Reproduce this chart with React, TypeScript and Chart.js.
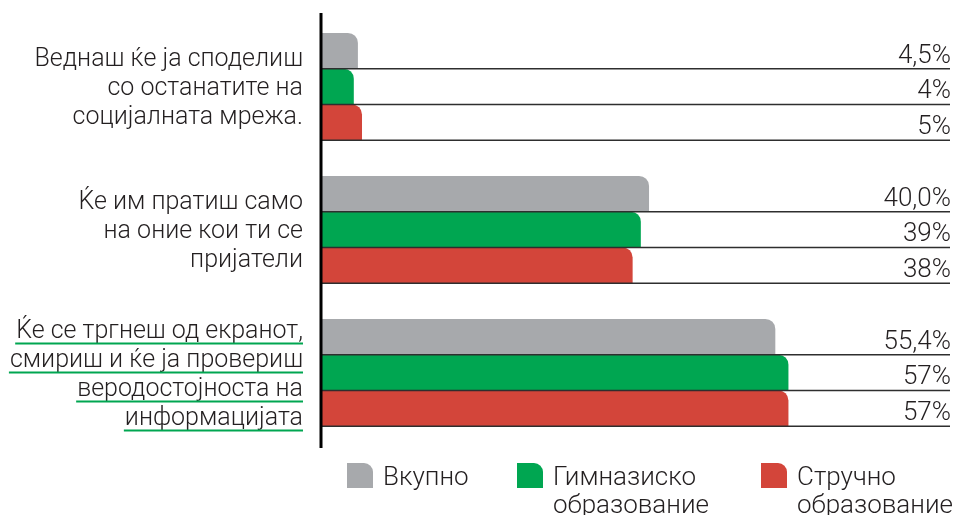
import React, { useEffect, useRef } from "react";
import { Chart, registerables } from "chart.js";

Chart.register(...registerables);

// ---- data ----
const categories: string[][] = [
  ["Веднаш ќе ја споделиш", "со останатите на", "социјалната мрежа."],
  ["Ќе им пратиш само", "на оние кои ти се", "пријатели"],
  ["Ќе се тргнеш од екранот,", "смириш и ќе ја провериш", "веродостојноста на", "информацијата"],
];
const seriesNames = ["Вкупно", "Гимназиско образование", "Стручно образование"];
const legendLines: string[][] = [["Вкупно"], ["Гимназиско", "образование"], ["Стручно", "образование"]];
const totalValues = [4.5, 40.0, 55.4];
const gymnasiumValues = [4, 39, 57];
const vocationalValues = [5, 38, 57];
const valueDecimals = [1, 0, 0];
const highlightedCategory = 2;

// ---- style ----
const colors = ["#a7a9ac", "#00a651", "#d3453a"];
const FONT = '"Roboto", "Noto Sans", sans-serif';
const TEXT = "#231f20";

function formatValue(v: number, d: number) {
  return v.toFixed(d).replace(".", ",") + "%";
}

function roundTopRightRect(ctx: CanvasRenderingContext2D, x: number, y: number, w: number, h: number, r: number) {
  ctx.beginPath();
  ctx.moveTo(x, y);
  ctx.lineTo(x + w - r, y);
  ctx.arcTo(x + w, y, x + w, y + r, r);
  ctx.lineTo(x + w, y + h);
  ctx.lineTo(x, y + h);
  ctx.closePath();
}

const overlayPlugin = {
  id: "overlay",
  afterDatasetsDraw(chart: any) {
    const ctx: CanvasRenderingContext2D = chart.ctx;
    const area = chart.chartArea;
    ctx.save();

    // lines under bars and value labels
    chart.data.datasets.forEach((ds: any, di: number) => {
      const meta = chart.getDatasetMeta(di);
      meta.data.forEach((bar: any, i: number) => {
        const { y, height } = bar.getProps(["y", "height"], true);
        const bottom = y + height / 2;
        ctx.strokeStyle = "#2e2e2e";
        ctx.lineWidth = 1.5;
        ctx.beginPath();
        ctx.moveTo(area.left, bottom);
        ctx.lineTo(area.right, bottom);
        ctx.stroke();

        ctx.fillStyle = TEXT;
        ctx.font = `300 26px ${FONT}`;
        ctx.textAlign = "right";
        ctx.textBaseline = "alphabetic";
        ctx.fillText(formatValue(ds.data[i], valueDecimals[di]), area.right + 1, bottom - 6);
      });
    });

    // vertical axis line
    ctx.strokeStyle = "#000";
    ctx.lineWidth = 3;
    ctx.beginPath();
    ctx.moveTo(area.left, area.top - 2);
    ctx.lineTo(area.left, area.bottom + 4);
    ctx.stroke();

    // category labels
    const yScale = chart.scales.y;
    ctx.font = `300 25px ${FONT}`;
    ctx.textAlign = "right";
    ctx.fillStyle = TEXT;
    const labelRight = area.left - 18;
    categories.forEach((lines, ci) => {
      const cy = yScale.getPixelForValue(ci);
      lines.forEach((line, li) => {
        const base = cy + 8.5 + (li - (lines.length - 1) / 2) * 29;
        ctx.fillStyle = TEXT;
        ctx.fillText(line, labelRight, base);
        if (ci === highlightedCategory) {
          const w = ctx.measureText(line).width;
          ctx.strokeStyle = "#00a651";
          ctx.lineWidth = 2;
          ctx.beginPath();
          ctx.moveTo(labelRight - w - 1, base + 6);
          ctx.lineTo(labelRight, base + 6);
          ctx.stroke();
        }
      });
    });

    // legend
    const legendX = [347, 517, 761];
    const swTop = 463;
    ctx.textAlign = "left";
    ctx.font = `300 26px ${FONT}`;
    seriesNames.forEach((_, si) => {
      ctx.fillStyle = colors[si];
      roundTopRightRect(ctx, legendX[si], swTop, 26, 25, 9);
      ctx.fill();
      ctx.fillStyle = TEXT;
      legendLines[si].forEach((t, li) => {
        ctx.fillText(t, legendX[si] + 36, 485 + li * 28);
      });
    });

    ctx.restore();
  },
};

export default function App() {
  const ref = useRef<HTMLCanvasElement | null>(null);

  useEffect(() => {
    if (!ref.current) return;
    const chart = new Chart(ref.current, {
      type: "bar",
      data: {
        labels: categories,
        datasets: [totalValues, gymnasiumValues, vocationalValues].map((vals, i) => ({
          label: seriesNames[i],
          data: vals,
          backgroundColor: colors[i],
          borderWidth: 0,
          borderRadius: { topLeft: 0, topRight: 10, bottomLeft: 0, bottomRight: 0 },
          borderSkipped: "start",
          categoryPercentage: 0.75,
          barPercentage: 1,
        })),
      },
      options: {
        indexAxis: "y",
        animation: false,
        responsive: false,
        devicePixelRatio: 1,
        layout: { padding: { left: 321, right: 4, top: 15, bottom: 71 } },
        scales: {
          x: { display: false, min: 0, max: 76.7 },
          y: { display: false },
        },
        plugins: {
          legend: { display: false },
          tooltip: { enabled: false },
        },
      },
      plugins: [overlayPlugin],
    } as any);
    return () => chart.destroy();
  }, []);

  return (
    <div style={{ position: "absolute", left: 0, top: 0, width: 954, height: 515, background: "#fff" }}>
      <canvas ref={ref} width={954} height={515} />
    </div>
  );
}
